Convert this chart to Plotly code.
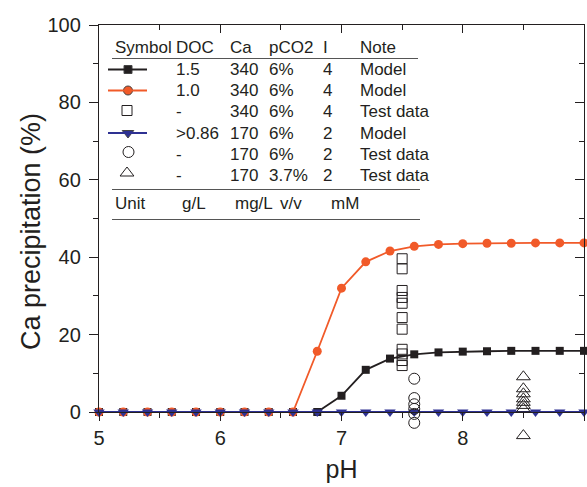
import plotly.graph_objects as go

# ---------------- data ----------------
ph = [5.0, 5.2, 5.4, 5.6, 5.8, 6.0, 6.2, 6.4, 6.6, 6.8, 7.0, 7.2, 7.4, 7.6, 7.8, 8.0, 8.2, 8.4, 8.6, 8.8, 9.0]
model_doc15 = [0, 0, 0, 0, 0, 0, 0, 0, 0, 0, 4.2, 10.9, 13.8, 14.9, 15.4, 15.6, 15.7, 15.8, 15.8, 15.8, 15.8]
model_doc10 = [0, 0, 0, 0, 0, 0, 0, 0, 0, 15.7, 32.0, 38.8, 41.6, 42.8, 43.3, 43.5, 43.6, 43.6, 43.7, 43.7, 43.7]
model_ca170 = [0] * 21

test_sq_ph = 7.5
test_sq = [39.6, 37.0, 31.4, 29.6, 28.1, 24.4, 21.4, 16.2, 15.0, 13.3, 12.0]
test_circ_ph = 7.6
test_circ = [8.6, 3.6, 2.0, 0.8, -0.5, -2.8]
test_tri_ph = 8.5
test_tri = [9.1, 6.0, 4.7, 3.4, 2.5, 1.7, 0.8, -6.1]

table_header = ["Symbol", "DOC", "Ca", "pCO2", "I", "Note"]
table_rows = [
    ["1.5", "340", "6%", "4", "Model"],
    ["1.0", "340", "6%", "4", "Model"],
    ["-", "340", "6%", "4", "Test data"],
    [">0.86", "170", "6%", "2", "Model"],
    ["-", "170", "6%", "2", "Test data"],
    ["-", "170", "3.7%", "2", "Test data"],
]
table_units = ["Unit", "g/L", "mg/L", "v/v", "mM"]

# ---------------- styles ----------------
BLACK = "#231f20"
ORANGE = "#f15a29"
BLUE = "#2e3192"
FONT = "Liberation Sans, Arial, sans-serif"

W, H = 587, 487
L, R, T, B = 99, 3, 25, 40
PW, PH = W - L - R, H - T - B
AXIS_BOTTOM_PX = 412          # pixel row of the x axis (y = 0)
Y_MIN, Y_MAX = 0, 100

d = (H - B - AXIS_BOTTOM_PX) / PH           # main y-domain start (paper)
scale = (1 - d) / (Y_MAX - Y_MIN)            # paper per data unit
y_ext_min = Y_MIN - d / scale                # extended axis for points below zero


def fx(px):
    return (px - L) / PW


def fy(py):
    return (H - B - py) / PH


fig = go.Figure()

# model curves
fig.add_trace(go.Scatter(x=ph, y=model_doc15, mode="lines+markers",
                         line=dict(color=BLACK, width=1.8),
                         marker=dict(symbol="square", size=8, color=BLACK),
                         cliponaxis=False, showlegend=False))
fig.add_trace(go.Scatter(x=ph, y=model_doc10, mode="lines+markers",
                         line=dict(color=ORANGE, width=1.8),
                         marker=dict(symbol="circle", size=9, color=ORANGE),
                         cliponaxis=False, showlegend=False))
fig.add_trace(go.Scatter(x=ph, y=model_ca170, mode="lines+markers",
                         line=dict(color=BLUE, width=2.2),
                         marker=dict(symbol="triangle-down", size=10, color=BLUE),
                         cliponaxis=False, showlegend=False))

# test data (on an extended copy of the y axis so values below 0 remain visible)
fig.add_trace(go.Scatter(x=[test_sq_ph] * len(test_sq), y=test_sq, yaxis="y4", mode="markers",
                         marker=dict(symbol="square-open", size=10, color=BLACK, line=dict(width=1)),
                         cliponaxis=False, showlegend=False))
fig.add_trace(go.Scatter(x=[test_circ_ph] * len(test_circ), y=test_circ, yaxis="y4", mode="markers",
                         marker=dict(symbol="circle-open", size=11, color=BLACK, line=dict(width=1)),
                         cliponaxis=False, showlegend=False))
fig.add_trace(go.Scatter(x=[test_tri_ph] * len(test_tri), y=test_tri, yaxis="y4", mode="markers",
                         marker=dict(symbol="triangle-up-open", size=12, color=BLACK, line=dict(width=1)),
                         cliponaxis=False, showlegend=False))

# invisible trace on mirror axes so they are drawn
fig.add_trace(go.Scatter(x=[5], y=[0], xaxis="x2", yaxis="y2", mode="markers",
                         marker=dict(opacity=0), hoverinfo="skip", showlegend=False))

# ---------------- legend table ----------------
col_x = [113, 174, 228, 267, 321, 358]
unit_x = [113, 180, 233, 278, 329]
header_y = 48
row_y = [69.5, 90.5, 111.5, 133, 154, 175]
unit_y = 203.5
tfont = dict(family=FONT, size=17, color=BLACK)

ann = []
for txt, cx in zip(table_header, col_x):
    ann.append(dict(x=fx(cx), y=fy(header_y), xref="paper", yref="paper", text=txt,
                    showarrow=False, xanchor="left", yanchor="middle", font=tfont))
for row, ry in zip(table_rows, row_y):
    for txt, cx in zip(row, col_x[1:]):
        ann.append(dict(x=fx(cx), y=fy(ry), xref="paper", yref="paper", text=txt,
                        showarrow=False, xanchor="left", yanchor="middle", font=tfont))
for txt, cx in zip(table_units, unit_x):
    ann.append(dict(x=fx(cx), y=fy(unit_y), xref="paper", yref="paper", text=txt,
                    showarrow=False, xanchor="left", yanchor="middle", font=tfont))

# y-axis title placed as rotated text
ann.append(dict(x=fx(31), y=fy(232), xref="paper", yref="paper", text="Ca precipitation (%)",
                textangle=-90, showarrow=False, xanchor="center", yanchor="middle",
                font=dict(family=FONT, size=27, color=BLACK)))

shapes = []
for ly, x1 in [(58.5, 418), (189.5, 420), (219.5, 420)]:
    shapes.append(dict(type="line", xref="paper", yref="paper", x0=fx(112), x1=fx(x1),
                       y0=fy(ly), y1=fy(ly), line=dict(color="#555555", width=1.2)))
for ly, col in [(row_y[0], BLACK), (row_y[1], ORANGE), (row_y[3], BLUE)]:
    shapes.append(dict(type="line", xref="paper", yref="paper", x0=fx(108), x1=fx(147),
                       y0=fy(ly), y1=fy(ly), line=dict(color=col, width=1.8)))

# legend sample markers on a hidden paper-fraction axis pair
samples = [
    (128, row_y[0], "square", BLACK, 8),
    (128, row_y[1], "circle", ORANGE, 9),
    (127, row_y[2] - 1, "square-open", BLACK, 10),
    (128, row_y[3], "triangle-down", BLUE, 10),
    (128.5, row_y[4] - 2, "circle-open", BLACK, 11),
    (127, row_y[5] - 2, "triangle-up-open", BLACK, 12),
]
for sx, sy, sym, col, sz in samples:
    fig.add_trace(go.Scatter(x=[fx(sx)], y=[fy(sy)], xaxis="x3", yaxis="y3", mode="markers",
                             marker=dict(symbol=sym, size=sz, color=col, line=dict(width=1)),
                             hoverinfo="skip", showlegend=False, cliponaxis=False))

axis_common = dict(showline=True, linecolor=BLACK, linewidth=1.3, showgrid=False, zeroline=False,
                   tickcolor=BLACK, tickwidth=1.2)

fig.update_layout(
    width=W, height=H,
    margin=dict(l=L, r=R, t=T, b=B, pad=0),
    paper_bgcolor="white", plot_bgcolor="rgba(0,0,0,0)",
    font=dict(family=FONT, color=BLACK),
    xaxis=dict(range=[5, 9], dtick=1, tick0=5, ticks="outside", ticklen=8, anchor="y",
               minor=dict(dtick=0.5, ticks="outside", ticklen=5, tickcolor=BLACK, tickwidth=1.2),
               tickfont=dict(size=20, color=BLACK), ticklabelstandoff=0,
               title=dict(text="pH", font=dict(size=25, color=BLACK), standoff=12),
               **axis_common),
    yaxis=dict(domain=[d, 1], range=[Y_MIN, Y_MAX], dtick=20, tick0=0, ticks="outside", ticklen=9,
               minor=dict(dtick=10, ticks="outside", ticklen=5, tickcolor=BLACK, tickwidth=1.2),
               tickfont=dict(size=20, color=BLACK), ticklabelstandoff=4,
               **axis_common),
    xaxis2=dict(overlaying="x", side="top", anchor="y", range=[5, 9], dtick=1, tick0=5, ticks="inside", ticklen=8,
                minor=dict(dtick=0.5, ticks="inside", ticklen=5, tickcolor=BLACK, tickwidth=1.2),
                showticklabels=False, **axis_common),
    yaxis2=dict(overlaying="y", side="right", range=[Y_MIN, Y_MAX], dtick=20, tick0=0, ticks="inside", ticklen=9,
                minor=dict(dtick=10, ticks="inside", ticklen=5, tickcolor=BLACK, tickwidth=1.2),
                showticklabels=False, **axis_common),
    xaxis3=dict(domain=[0, 1], range=[0, 1], anchor="y3", visible=False),
    yaxis3=dict(domain=[0, 1], range=[0, 1], anchor="x3", visible=False),
    yaxis4=dict(domain=[0, 1], range=[y_ext_min, Y_MAX], anchor="x", visible=False),
    annotations=ann,
    shapes=shapes,
)

fig.write_html("out.html")
